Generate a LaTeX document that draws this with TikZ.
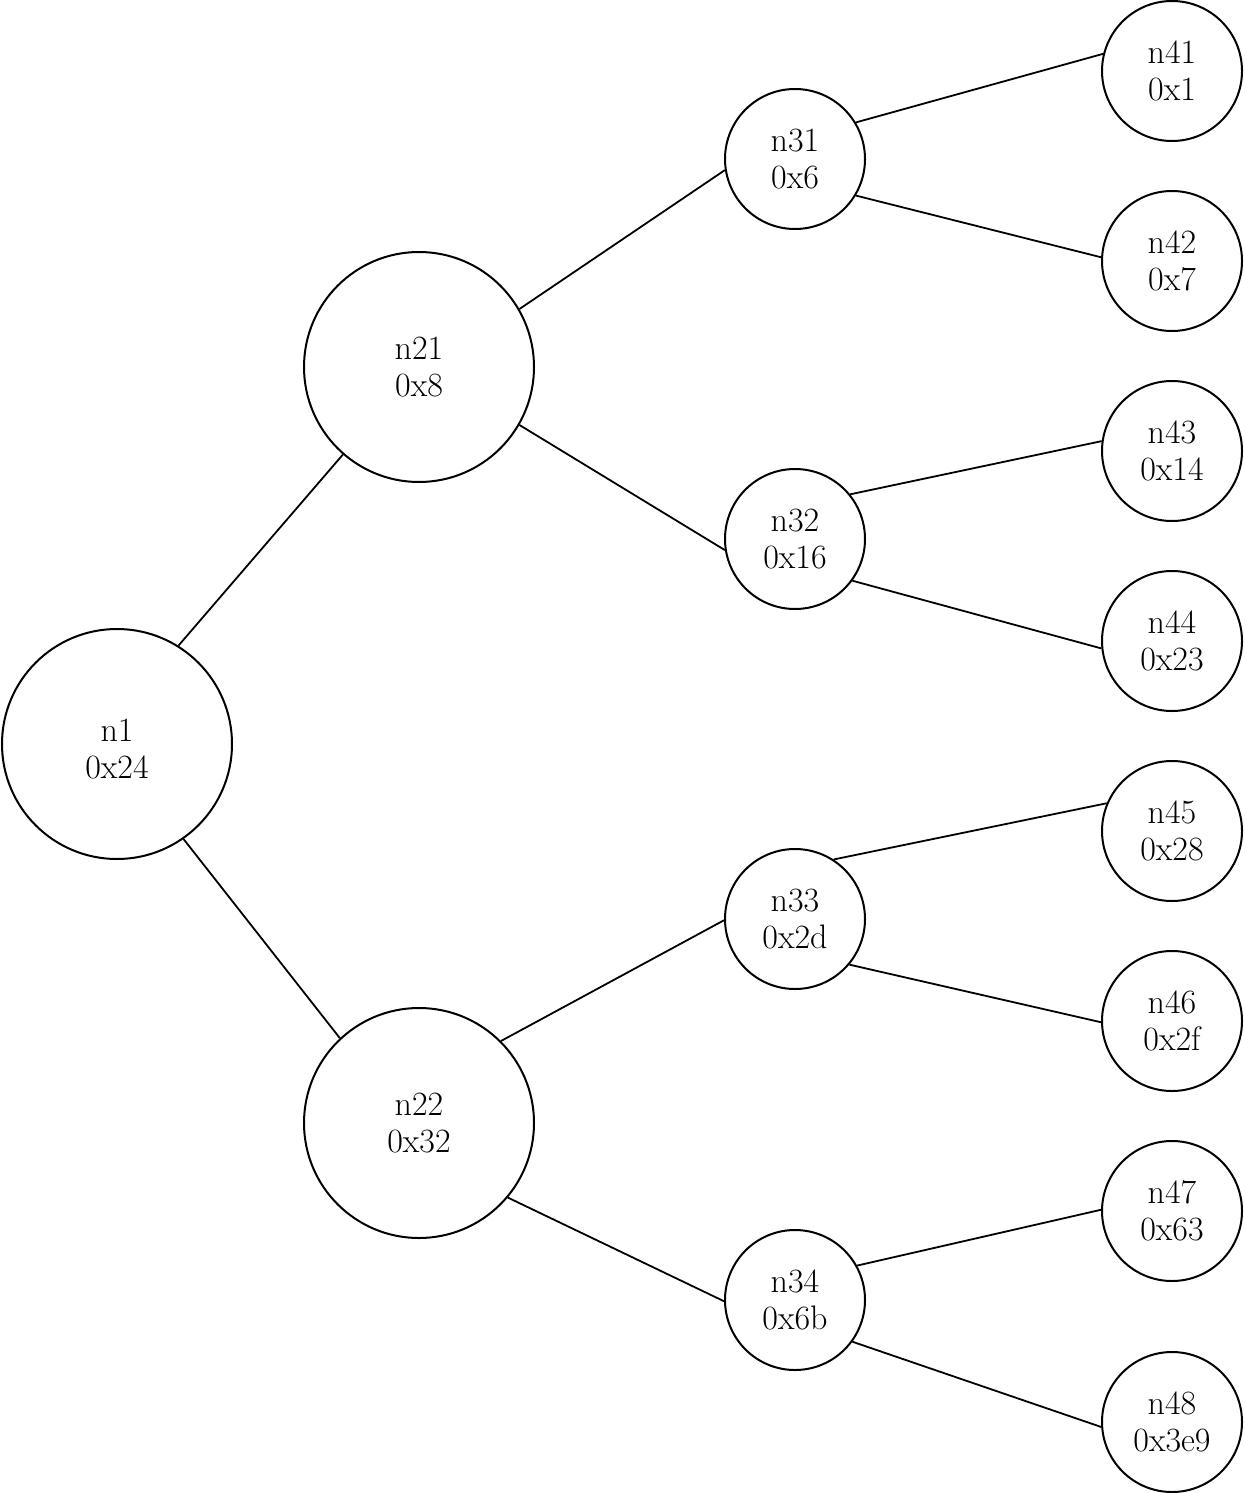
\documentclass[tikz,border=0pt]{standalone}
\begin{document}
\begin{tikzpicture}[x=0.5pt,y=-0.5pt,
  treenode/.style={circle,draw,line width=1pt,inner sep=0pt,align=center,font=\fontsize{17}{18.5}\selectfont},
  big/.style={treenode,minimum size=115pt},
  small/.style={treenode,minimum size=70pt},
  edge/.style={line width=0.9pt}]
\useasboundingbox (0,0) rectangle (1244,1493);
\node[big] (n1) at (117,744) {\rule{0pt}{16.5pt}n1\\0x24};
\node[big] (n21) at (419,367) {n21\\0x8};
\node[big] (n22) at (419,1123) {n22\\0x32};
\node[small] (n31) at (795,159) {n31\\0x6};
\node[small] (n32) at (795,539) {n32\\0x16};
\node[small] (n33) at (795,919) {n33\\0x2d};
\node[small] (n34) at (795,1300) {n34\\0x6b};
\node[small] (n41) at (1172,71) {n41\\0x1};
\node[small] (n42) at (1172,261) {n42\\0x7};
\node[small] (n43) at (1172,451) {n43\\0x14};
\node[small] (n44) at (1172,641) {n44\\0x23};
\node[small] (n45) at (1172,831) {n45\\0x28};
\node[small] (n46) at (1172,1021) {n46\\0x2f};
\node[small] (n47) at (1172,1211) {n47\\0x63};
\node[small] (n48) at (1172,1422) {n48\\0x3e9};
\draw[edge] (n1.58.4) -- (n21.229.2);
\draw[edge] (n1.-55.8) -- (n22.133.9);
\draw[edge] (n21.30.5) -- (n31.189);
\draw[edge] (n21.-30.5) -- (n32.189);
\draw[edge] (n22.45.3) -- (n33.181.6);
\draw[edge] (n22.-40.5) -- (n34.181.6);
\draw[edge] (n31.31.7) -- (n41.166.4);
\draw[edge] (n31.-31) -- (n42.177.5);
\draw[edge] (n32.39.8) -- (n43.172.7);
\draw[edge] (n32.-36.9) -- (n44.186.5);
\draw[edge] (n33.57.2) -- (n45.157.6);
\draw[edge] (n33.-40.4) -- (n46.181.6);
\draw[edge] (n34.29.8) -- (n47.179);
\draw[edge] (n34.-36.9) -- (n48.184);
\end{tikzpicture}
\end{document}
